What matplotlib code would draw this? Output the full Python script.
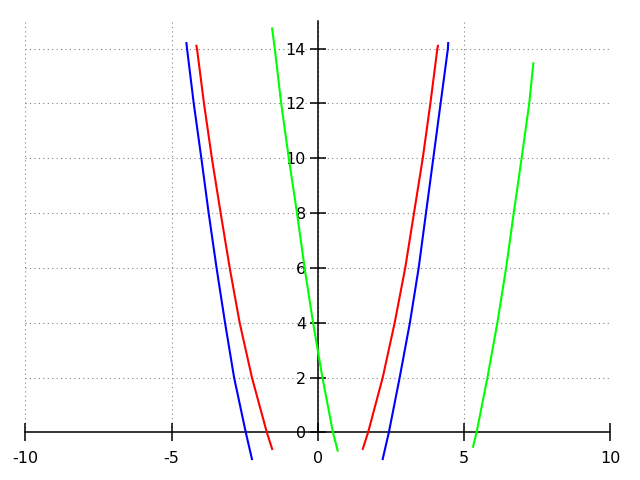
import matplotlib
matplotlib.use("Agg")
import matplotlib.pyplot as plt

plt.rcParams["axes.unicode_minus"] = False

# values: x where each branch crosses y = 14, 12, ... 0,
# plus the two end points of every branch
y_levels = [14.2, 14, 12, 10, 8, 6, 4, 2, 0, -0.97]

blue_left_x = [-4.49, -4.47, -4.24, -3.98, -3.73, -3.46, -3.17, -2.86, -2.46, -2.25]
blue_right_x = [4.46, 4.45, 4.20, 3.95, 3.70, 3.45, 3.15, 2.80, 2.43, 2.22]

red_y = [14.1, 14, 12, 10, 8, 6, 4, 2, 0, -0.6]
red_left_x = [-4.15, -4.13, -3.89, -3.62, -3.32, -3.01, -2.67, -2.25, -1.74, -1.56]
red_right_x = [4.11, 4.09, 3.85, 3.59, 3.29, 2.99, 2.63, 2.22, 1.72, 1.54]

green_left_y = [14.73, 14, 12, 10, 8, 6, 4, 2, 0, -0.66]
green_left_x = [-1.56, -1.47, -1.25, -0.99, -0.71, -0.45, -0.16, 0.16, 0.52, 0.68]
green_right_y = [13.46, 12, 10, 8, 6, 4, 2, 0, -0.52]
green_right_x = [7.37, 7.23, 6.97, 6.70, 6.44, 6.14, 5.80, 5.43, 5.31]

x_ticks = [-10, -5, 0, 5, 10]
y_ticks = [0, 2, 4, 6, 8, 10, 12, 14]

fig = plt.figure(figsize=(6.4, 4.8), dpi=100)
ax = fig.add_axes([0.0395, 0.099, 0.914, 0.857])

curves = [
    (blue_left_x, y_levels, "#0000ff"),
    (blue_right_x, y_levels, "#0000ff"),
    (red_left_x, red_y, "#ff0000"),
    (red_right_x, red_y, "#ff0000"),
    (green_left_x, green_left_y, "#00ff00"),
    (green_right_x, green_right_y, "#00ff00"),
]
for xs, ys, c in curves:
    ax.plot(xs, ys, color=c, lw=1.5, clip_on=False, zorder=3)

ax.set_xlim(-10, 10)
ax.set_ylim(0, 15)
ax.set_xticks(x_ticks)
ax.set_yticks(y_ticks)

ax.spines["left"].set_position(("data", 0))
ax.spines["bottom"].set_position(("data", 0))
ax.spines["top"].set_visible(False)
ax.spines["right"].set_visible(False)
for s in ("left", "bottom"):
    ax.spines[s].set_linewidth(1.1)

ax.tick_params(axis="x", direction="inout", length=13, width=1.1, pad=6.5, labelsize=11.5)
ax.tick_params(axis="y", direction="inout", length=11, width=1.1, pad=3, labelsize=11.5)
ax.grid(True, color="gray", linestyle=(0, (1, 3)), linewidth=0.8)
ax.set_axisbelow(True)

fig.savefig("out.png", dpi=100)
